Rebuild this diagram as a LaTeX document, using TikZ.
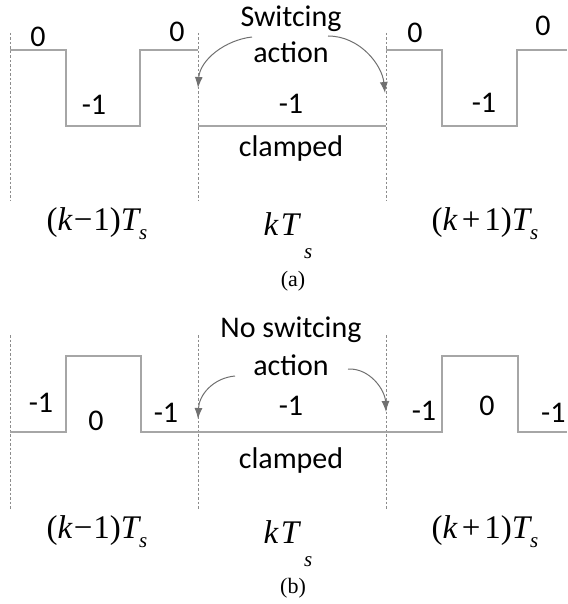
\documentclass[tikz,border=0pt]{standalone}
\usepackage{fontspec}
\setmainfont{Carlito}
\newfontfamily\tms{Liberation Serif}
\usetikzlibrary{arrows.meta}
\definecolor{wave}{HTML}{A6A6A6}
\definecolor{dashc}{HTML}{8C8C8C}
\definecolor{arr}{HTML}{707070}
\newcommand{\sub}[2]{\raisebox{#1}{\fontsize{21}{21}\selectfont\itshape #2}}
\tikzset{
  lbl/.style={inner sep=0pt, anchor=base, font=\fontsize{30}{36}\selectfont},
  mth/.style={inner sep=0pt, anchor=base, font=\tms\fontsize{33}{38}\selectfont},
  captxt/.style={inner sep=0pt, anchor=base, font=\tms\fontsize{22}{26}\selectfont},
  wv/.style={draw=wave, line width=1.5pt},
  dl/.style={draw=dashc, line width=0.9pt, dash pattern=on 2.5pt off 2pt},
  ar/.style={draw=arr, line width=1pt, -{Latex[length=11pt,width=8pt]}, arr}
}
\begin{document}
\begin{tikzpicture}[x=1pt,y=-1pt]
\useasboundingbox (0,0) rectangle (567,604);
% ---------- (a) ----------
\foreach \xx in {10,198,386} \draw[dl] (\xx,33) -- (\xx,200);
\draw[wv] (10,50) -- (66,50) -- (66,126) -- (140,126) -- (140,50) -- (198,50);
\draw[wv] (198,126) -- (386,126);
\draw[wv] (386,50) -- (442,50) -- (442,126) -- (517,126) -- (517,50) -- (567,50);
\node[lbl] (a0a) at (38,47) {0};
\node[lbl] (a1a) at (94,115) {-1};
\node[lbl] (a0b) at (177,42) {0};
\node[lbl] (asw) at (291,27) {Switcing};
\node[lbl] (aac) at (291,63) {action};
\node[lbl] (am1) at (291,114) {-1};
\node[lbl] (acl) at (291,157) {clamped};
\node[lbl] (a0c) at (415,43) {0};
\node[lbl] (a1b) at (484,113) {-1};
\node[lbl] (a0d) at (543,36) {0};
\node[mth] (akm) at (97,230) {(\textit{k}\kern1pt−\kern1pt1)\textit{T}\kern-2pt\sub{-0.3em}{s}};
\node[mth] (ak) at (288,235) {\textit{k}\kern2pt\textit{T}\kern3pt\sub{-0.7em}{s}};
\node[mth] (akp) at (485,230) {(\textit{k}\kern4pt+\kern4pt1)\textit{T}\kern-2pt\sub{-0.3em}{s}};
\node[captxt] (capa) at (293,286) {(a)};
\coordinate (als) at (252,37);
\coordinate (ale) at (198,88);
\coordinate (ars) at (328,36);
\coordinate (are) at (385,93);
\draw[ar] (als) .. controls (225,40) and (200,60) .. (ale);
\draw[ar] (ars) .. controls (360,36) and (382,65) .. (are);
% ---------- (b) ----------
\foreach \xx in {10,198,386} \draw[dl] (\xx,335) -- (\xx,510);
\draw[wv] (10,432) -- (66,432) -- (66,356) -- (141,356) -- (141,432) -- (442,432) -- (442,356) -- (518,356) -- (518,432) -- (567,432);
\node[lbl] (b1a) at (41,412) {-1};
\node[lbl] (b0a) at (96,430) {0};
\node[lbl] (b1b) at (166,422) {-1};
\node[lbl] (bsw) at (291,337) {No switcing};
\node[lbl] (bac) at (291,375) {action};
\node[lbl] (bm1) at (291,415) {-1};
\node[lbl] (bcl) at (291,468) {clamped};
\node[lbl] (b1c) at (424,420) {-1};
\node[lbl] (b0b) at (487,415) {0};
\node[lbl, anchor=base west] (b1d) at (541,422) {-1};
\node[mth] (bkm) at (97,538) {(\textit{k}\kern1pt−\kern1pt1)\textit{T}\kern-2pt\sub{-0.3em}{s}};
\node[mth] (bk) at (288,543) {\textit{k}\kern2pt\textit{T}\kern3pt\sub{-0.7em}{s}};
\node[mth] (bkp) at (485,538) {(\textit{k}\kern4pt+\kern4pt1)\textit{T}\kern-2pt\sub{-0.3em}{s}};
\node[captxt] (capb) at (293,593) {(b)};
\coordinate (bls) at (235,376);
\coordinate (ble) at (198,419);
\coordinate (brs) at (348,369);
\coordinate (bre) at (386,412);
\draw[ar] (bls) .. controls (213,378) and (199,395) .. (ble);
\draw[ar] (brs) .. controls (370,368) and (385,390) .. (bre);
\end{tikzpicture}
\end{document}
